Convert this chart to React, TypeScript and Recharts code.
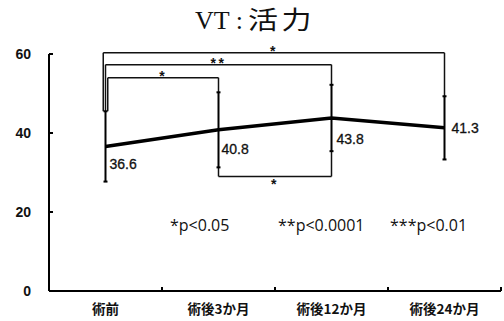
import { LineChart, Line, XAxis, YAxis, ErrorBar, LabelList, ReferenceLine, ReferenceDot } from 'recharts'

const CATEGORIES = ['術前', '術後3か月', '術後12か月', '術後24か月']
const MEANS = [36.6, 40.8, 43.8, 41.3]
const SD = [8.9, 9.5, 8.4, 8.0]
const Y_TICKS = [0, 20, 40, 60]
const X_TICKS = [0.5, 1, 1.5, 2, 2.5, 3, 3.5, 4]

// significance brackets: category index from/to, bracket level, mark
const BRACKET_FROM = [0, 0, 0, 1]
const BRACKET_TO = [3, 2, 1, 2]
const BRACKET_LEVEL = [60.3, 57.3, 54.0, 29.0]
const BRACKET_MARK = ['*', '**', '*', '*']

const P_NOTES = ['*p<0.05', '**p<0.0001', '***p<0.01']

// styling offsets (pixels / category units), not data
const NEST_DX = [-0.02, 0, 0.02, 0]
const LABEL_DX = [4, 3, 5, 7]
const LABEL_DY = [23, 24, 26, 5]
const NOTE_X = [170, 278, 390]

const data = CATEGORIES.map((name, i) => ({ pos: i + 0.5, name, mean: MEANS[i], sd: SD[i] }))

const YTick = ({ x, y, payload }: any) => (
  <g>
    <line x1={x} x2={x + 4} y1={y} y2={y} stroke="#000" strokeWidth={2} />
    <text x={x - 18} y={y} dy="0.36em" textAnchor="end" fontSize={14} fontWeight="bold"
      fontFamily="'Liberation Sans', Arial, sans-serif" fill="#111">
      {payload.value}
    </text>
  </g>
)

const XTick = ({ x, y, payload }: any) => {
  const v = payload.value
  if (Number.isInteger(v)) {
    return <line x1={x} x2={x} y1={y} y2={y - 4} stroke="#000" strokeWidth={2} />
  }
  return (
    <text x={x} y={y + 23} textAnchor="middle" fontSize={13.5} fontWeight="bold"
      fontFamily="'Noto Sans CJK JP', sans-serif" fill="#111">
      {CATEGORIES[Math.floor(v)]}
    </text>
  )
}

const ValueLabel = (props: any) => {
  const { x, y, value } = props
  const i = props.index ?? MEANS.indexOf(value)
  return (
    <text x={x + LABEL_DX[i]} y={y + LABEL_DY[i]} fontSize={14}
      fontFamily="'Liberation Sans', Arial, sans-serif" fill="#111" stroke="#111" strokeWidth={0.3}>
      {value}
    </text>
  )
}

export default function App() {
  const brackets = BRACKET_FROM.map((from, i) => {
    const to = BRACKET_TO[i]
    const level = BRACKET_LEVEL[i]
    const below = level < MEANS[from]
    const endOf = (k: number) => (below ? MEANS[k] - SD[k] : MEANS[k] + SD[k])
    const x1 = from + 0.5 + NEST_DX[i]
    const x2 = to + 0.5
    return { x1, x2, level, below, y1: endOf(from), y2: endOf(to), mark: BRACKET_MARK[i] }
  })

  return (
    <div style={{ position: 'absolute', left: 0, top: 0, width: 504, height: 321, background: '#fff' }}>
      <LineChart width={504} height={321} data={data} margin={{ top: 54, right: 3, bottom: 0, left: 0 }}>
        <XAxis dataKey="pos" type="number" domain={[0, 4]} ticks={X_TICKS} interval={0}
          height={30} tickSize={0} tickMargin={0} tickLine={false}
          axisLine={{ stroke: '#000', strokeWidth: 2 }} tick={<XTick />} />
        <YAxis domain={[0, 60]} ticks={Y_TICKS} interval={0} width={49} tickSize={0} tickMargin={0}
          tickLine={false} axisLine={{ stroke: '#000', strokeWidth: 2 }} tick={<YTick />} />
        {brackets.map((b, i) => [
          <ReferenceLine key={`l${i}`} ifOverflow="visible" stroke="#111" strokeWidth={1.5}
            segment={[{ x: b.x1, y: b.y1 }, { x: b.x1, y: b.level }]} />,
          <ReferenceLine key={`h${i}`} ifOverflow="visible" stroke="#111" strokeWidth={1.5}
            segment={[{ x: b.x1, y: b.level }, { x: b.x2, y: b.level }]} />,
          <ReferenceLine key={`r${i}`} ifOverflow="visible" stroke="#111" strokeWidth={1.5}
            segment={[{ x: b.x2, y: b.level }, { x: b.x2, y: b.y2 }]} />,
          <ReferenceDot key={`m${i}`} ifOverflow="visible" x={(b.x1 + b.x2) / 2} y={b.level}
            shape={(p: any) => (
              <text x={p.cx} y={b.below ? p.cy + 13 : p.cy + 3} textAnchor="middle" fontSize={14}
                fontWeight="bold" letterSpacing={2.5} fontFamily="'Liberation Sans', Arial, sans-serif" fill="#111">
                {b.mark}
              </text>
            )} />,
        ])}
        <Line type="linear" dataKey="mean" stroke="#000" strokeWidth={3.5} dot={false} isAnimationActive={false}>
          <ErrorBar dataKey="sd" width={2} strokeWidth={2} stroke="#000" direction="y" />
          <LabelList dataKey="mean" content={<ValueLabel />} />
        </Line>
      </LineChart>
      <svg width={504} height={321} style={{ position: 'absolute', left: 0, top: 0, pointerEvents: 'none' }}>
        <text x={195} y={29} fill="#111" fontFamily="'Liberation Serif', serif" fontSize={26}>VT :</text>
        <text transform="translate(248,29) scale(1.2,1)" fill="#111"
          fontFamily="'Noto Sans CJK JP', sans-serif" fontSize={25} letterSpacing={3}>
          活力
        </text>
        {P_NOTES.map((t, i) => (
          <text key={t} x={NOTE_X[i]} y={231} fontSize={16} fontFamily="'Open Sans', sans-serif" fill="#111">
            {t}
          </text>
        ))}
      </svg>
    </div>
  )
}
